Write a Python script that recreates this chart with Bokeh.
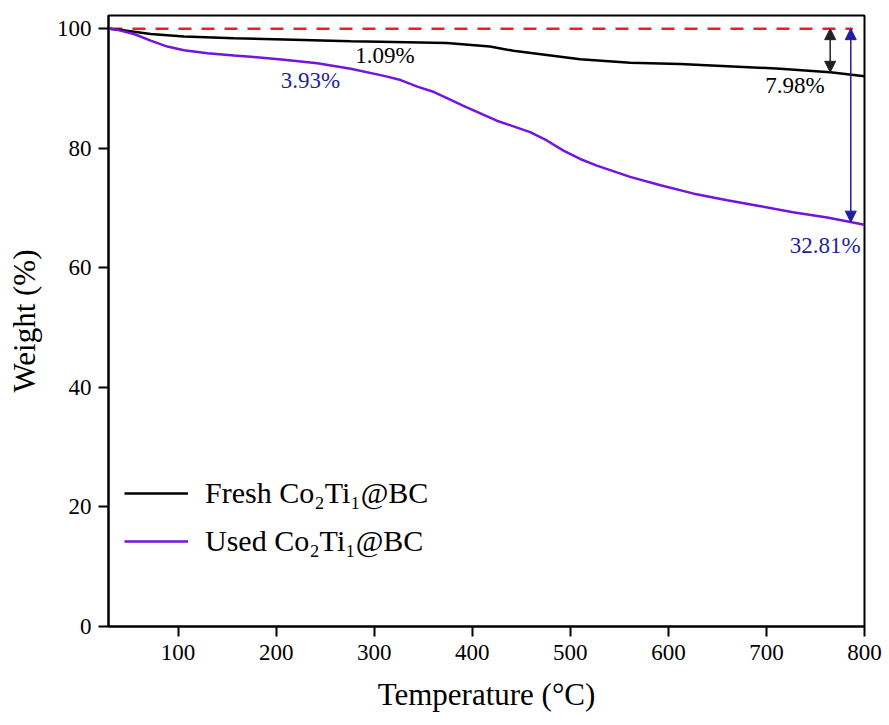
import numpy as np
from bokeh.plotting import figure
from bokeh.models import (Range1d, FixedTicker, Legend, LegendItem, Arrow,
                          NormalHead, Label)
from bokeh.embed import file_html
from bokeh.resources import INLINE

# ---- data ----
temp_fresh = [30, 40, 72, 106, 157, 208, 276, 306, 374, 418, 442, 476, 510,
              561, 612, 714, 765, 800]
w_fresh = [100, 99.8, 99.1, 98.7, 98.4, 98.2, 97.9, 97.8, 97.6, 97.0, 96.3,
           95.6, 94.9, 94.3, 94.1, 93.3, 92.7, 92.02]

temp_used = [30, 38, 55, 72, 89, 106, 130, 157, 174, 208, 242, 276, 310, 327,
             344, 361, 378, 391, 425, 459, 476, 493, 510, 527, 561, 592, 626,
             660, 694, 727, 762, 800]
w_used = [100, 99.8, 99.1, 98.0, 97.0, 96.4, 95.9, 95.5, 95.3, 94.8, 94.2,
          93.3, 92.1, 91.4, 90.3, 89.4, 88.1, 87.1, 84.6, 82.7, 81.3, 79.6,
          78.2, 77.1, 75.2, 73.8, 72.4, 71.3, 70.3, 69.3, 68.4, 67.19]

series_names = ["Fresh Co\u2082Ti\u2081@BC", "Used Co\u2082Ti\u2081@BC"]
x_ticks = [100, 200, 300, 400, 500, 600, 700, 800]
y_ticks = [0, 20, 40, 60, 80, 100]
loss_labels = ["1.09%", "3.93%", "7.98%", "32.81%"]

FONT = "Liberation Serif"
BLACK = "#000000"
PURPLE = "#7414dc"
NAVY = "#1f1f9e"
RED = "#e8202a"

p = figure(width=889, height=725, x_range=Range1d(29, 800),
           y_range=Range1d(0, 102.2), output_backend="svg",
           toolbar_location=None, min_border_left=108, min_border_right=25,
           min_border_top=15, min_border_bottom=99)

p.xgrid.visible = False
p.ygrid.visible = False
p.outline_line_color = "black"
p.outline_line_width = 2
p.outline_line_alpha = 1
p.background_fill_color = "white"
p.border_fill_color = "white"

p.xaxis.ticker = FixedTicker(ticks=x_ticks)
p.yaxis.ticker = FixedTicker(ticks=y_ticks)
for ax in (p.xaxis[0], p.yaxis[0]):
    ax.axis_line_width = 2
    ax.major_tick_line_width = 2
    ax.major_tick_out = 10
    ax.major_tick_in = 0
    ax.minor_tick_out = 0
    ax.minor_tick_in = 0
    ax.major_label_text_font = FONT
    ax.major_label_text_font_size = "23px"
    ax.major_label_text_color = "black"
    ax.axis_label_text_font = FONT
    ax.axis_label_text_font_size = "31px"
    ax.axis_label_text_font_style = "normal"
    ax.axis_label_text_color = "black"
p.xaxis.axis_label = "Temperature (\u00b0C)"
p.yaxis.axis_label = "Weight (%)"
p.xaxis.major_label_standoff = 8
p.xaxis.axis_label_standoff = 14
p.yaxis.major_label_standoff = 7
p.yaxis.axis_label_standoff = 12

# reference dashed line at 100 %
p.line(x=[temp_fresh[0], 788], y=[w_fresh[0], w_fresh[0]], line_color=RED,
       line_width=2.5, line_dash="13 10")

r_fresh = p.line(temp_fresh, w_fresh, line_color=BLACK, line_width=2.5)
r_used = p.line(temp_used, w_used, line_color=PURPLE, line_width=2.5)

# double-headed arrows showing total loss
xa1, xa2 = 765, 786
ya1 = float(np.interp(xa1, temp_fresh, w_fresh))
ya2 = float(np.interp(xa2, temp_used, w_used))
p.add_layout(Arrow(x_start=xa1, y_start=100, x_end=xa1, y_end=ya1,
                   line_color="#222222", line_width=1.5,
                   start=NormalHead(size=11, fill_color="#222222", line_color="#222222"),
                   end=NormalHead(size=11, fill_color="#222222", line_color="#222222")))
p.add_layout(Arrow(x_start=xa2, y_start=100, x_end=xa2, y_end=ya2,
                   line_color=NAVY, line_width=1.5,
                   start=NormalHead(size=11, fill_color=NAVY, line_color=NAVY),
                   end=NormalHead(size=11, fill_color=NAVY, line_color=NAVY)))

label_pos = [(311, 95.5, BLACK), (235, 91.3, NAVY), (729, 90.5, BLACK), (760, 63.7, NAVY)]
for txt, (lx, ly, col) in zip(loss_labels, label_pos):
    p.add_layout(Label(x=lx, y=ly, text=txt, text_align="center",
                       text_baseline="middle", text_font=FONT,
                       text_font_size="23px", text_color=col))

legend = Legend(items=[LegendItem(label=series_names[0], renderers=[r_fresh]),
                       LegendItem(label=series_names[1], renderers=[r_used])],
                location=(6, 58), padding=10, spacing=14, glyph_width=64,
                glyph_height=30, label_height=30, label_standoff=17,
                label_text_font=FONT, label_text_font_size="30px",
                label_text_color="black", border_line_alpha=0,
                background_fill_alpha=0)
p.add_layout(legend)

open("out.html", "w").write(file_html(p, INLINE))
